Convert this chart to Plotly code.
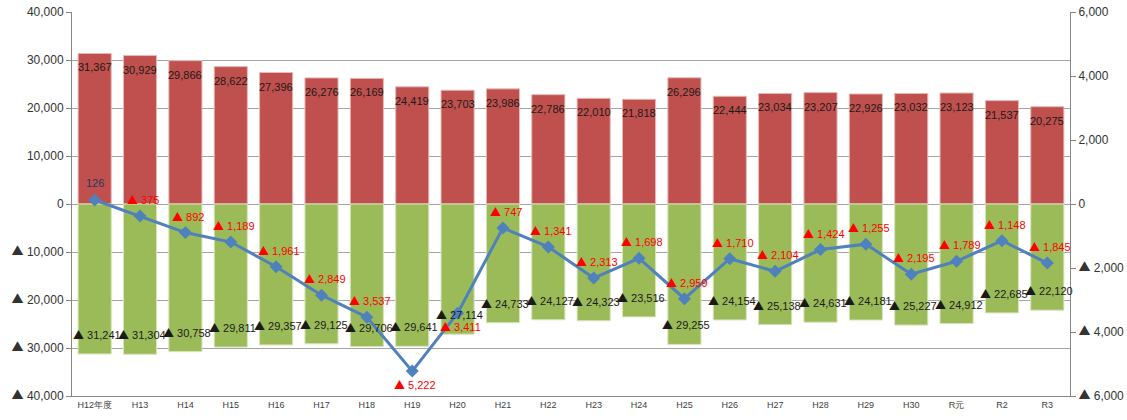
import plotly.graph_objects as go

# fiscal years
years = ["H12年度", "H13", "H14", "H15", "H16", "H17", "H18", "H19", "H20", "H21", "H22",
         "H23", "H24", "H25", "H26", "H27", "H28", "H29", "H30", "R元", "R2", "R3"]

# positive bars (left axis)
inflow = [31367, 30929, 29866, 28622, 27396, 26276, 26169, 24419, 23703, 23986, 22786,
          22010, 21818, 26296, 22444, 23034, 23207, 22926, 23032, 23123, 21537, 20275]

# negative bars (left axis)
outflow = [-31241, -31304, -30758, -29811, -29357, -29125, -29706, -29641, -27114, -24733, -24127,
           -24323, -23516, -29255, -24154, -25138, -24631, -24181, -25227, -24912, -22685, -22120]

# net change line (right axis)
net = [126, -375, -892, -1189, -1961, -2849, -3537, -5222, -3411, -747, -1341,
       -2313, -1698, -2959, -1710, -2104, -1424, -1255, -2195, -1789, -1148, -1845]

left_ticks = [40000, 30000, 20000, 10000, 0, -10000, -20000, -30000, -40000]
right_ticks = [6000, 4000, 2000, 0, -2000, -4000, -6000]

TRI = "<span style='font-family:Noto Sans CJK JP'>▲</span>"


def fmt(v):
    if v < 0:
        return TRI + " {:,}".format(-v)
    return "{:,}".format(v)


FONT = "Liberation Sans, Arial, sans-serif"
RED = "#C0504D"
GREEN = "#9BBB59"
BLUE = "#4F81BD"

fig = go.Figure()

fig.add_trace(go.Bar(x=years, y=inflow, name="inflow", width=0.73,
                     marker=dict(color=RED, line=dict(color="#E6B9B8", width=1))))
fig.add_trace(go.Bar(x=years, y=outflow, name="outflow", width=0.73,
                     marker=dict(color=GREEN, line=dict(color="#D7E4BD", width=1))))
fig.add_trace(go.Scatter(x=years, y=net, name="net", yaxis="y2", mode="lines+markers",
                         line=dict(color=BLUE, width=3),
                         marker=dict(symbol="diamond", size=10, color=BLUE)))

annotations = []
for yr, v in zip(years, inflow):
    annotations.append(dict(x=yr, y=v, xref="x", yref="y", text=fmt(v), showarrow=False,
                            yshift=-14, font=dict(size=11, color="#1a1a1a", family=FONT)))
for yr, v in zip(years, outflow):
    annotations.append(dict(x=yr, y=v, xref="x", yref="y", text=fmt(v), showarrow=False,
                            xshift=2, yshift=20,
                            font=dict(size=11, color="#1a1a1a", family=FONT)))
for yr, v in zip(years, net):
    below = yr in ("H19", "H20")
    annotations.append(dict(x=yr, y=v, xref="x", yref="y2", text=fmt(v), showarrow=False,
                            xshift=3 if v < 0 else 0,
                            yshift=-13 if below else 17,
                            font=dict(size=11, color="#FF0000" if v < 0 else "#1F3864",
                                      family=FONT)))

fig.update_layout(
    width=1127, height=420,
    margin=dict(l=72, r=57, t=12, b=24),
    barmode="overlay",
    showlegend=False,
    plot_bgcolor="white", paper_bgcolor="white",
    font=dict(family=FONT, color="#333333"),
    annotations=annotations,
    xaxis=dict(type="category", range=[-0.5, len(years) - 0.5],
               showgrid=False, showline=True, linecolor="#868686",
               ticks="", tickfont=dict(size=9, color="#404040"), automargin=False),
    yaxis=dict(range=[-40000, 40000], tickvals=left_ticks,
               ticktext=[fmt(t) for t in left_ticks],
               showgrid=True, gridcolor="#A6A6A6", gridwidth=1,
               zeroline=False, showline=True, linecolor="#868686",
               ticks="outside", ticklen=5, tickcolor="#868686", automargin=False,
               tickfont=dict(size=12, color="#333333")),
    yaxis2=dict(range=[-6000, 6000], tickvals=right_ticks,
                ticktext=[fmt(t) for t in right_ticks],
                overlaying="y", side="right", showgrid=False, zeroline=False,
                showline=True, linecolor="#868686", automargin=False,
                ticks="outside", ticklen=5, tickcolor="#868686",
                tickfont=dict(size=12, color="#333333")),
)

# drop the default 8px page margin so the figure sits at the window's corner
fig.write_html("out.html", config={"displayModeBar": False},
               post_script="document.body.style.margin = '0';")
